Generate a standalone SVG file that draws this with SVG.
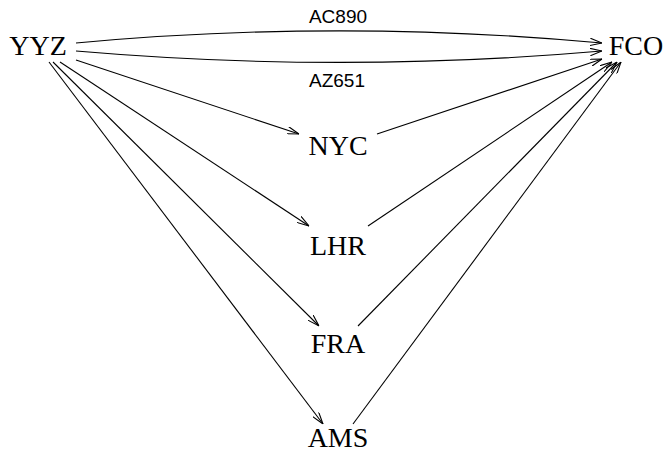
<svg xmlns="http://www.w3.org/2000/svg" width="666" height="454" viewBox="0 0 666 454">
<defs>
<style>
.n{font-family:"Liberation Serif","Times New Roman",serif;font-size:28px;fill:#000;text-anchor:middle}
.l{font-family:"Liberation Sans",Arial,sans-serif;font-size:19px;fill:#000;text-anchor:middle}
.e{fill:none;stroke:#000;stroke-width:1.1;marker-end:url(#a)}
</style>
<marker id="a" viewBox="0 0 12 8" refX="12" refY="4" markerWidth="12" markerHeight="8" markerUnits="userSpaceOnUse" orient="auto">
<path d="M0,0.3 L12,4 L0,7.7" fill="none" stroke="#000" stroke-width="1.1"/>
</marker>
</defs>
<rect width="666" height="454" fill="#fff"/>
<g id="edges">
<path class="e" d="M76,43 C250,27 430,27 602,43"/>
<path class="e" d="M76,51 C250,66 430,66 602,51"/>
<path class="e" d="M76,60 L299,134"/>
<path class="e" d="M60,62 L309,226"/>
<path class="e" d="M53,62 L319,326"/>
<path class="e" d="M49,62 L323,424"/>
<path class="e" d="M377,134 L602,59"/>
<path class="e" d="M368,226 L612,62"/>
<path class="e" d="M358,326 L617,62"/>
<path class="e" d="M353,424 L621,62"/>
<text class="l" x="338" y="23">AC890</text>
<text class="l" x="337" y="87">AZ651</text>
</g>
<g id="YYZ"><text class="n" x="38" y="55">YYZ</text></g>
<g id="FCO"><text class="n" x="636" y="55">FCO</text></g>
<g id="NYC"><text class="n" x="338" y="155">NYC</text></g>
<g id="LHR"><text class="n" x="338" y="255">LHR</text></g>
<g id="FRA"><text class="n" x="338" y="353">FRA</text></g>
<g id="AMS"><text class="n" x="338" y="447">AMS</text></g>
</svg>
